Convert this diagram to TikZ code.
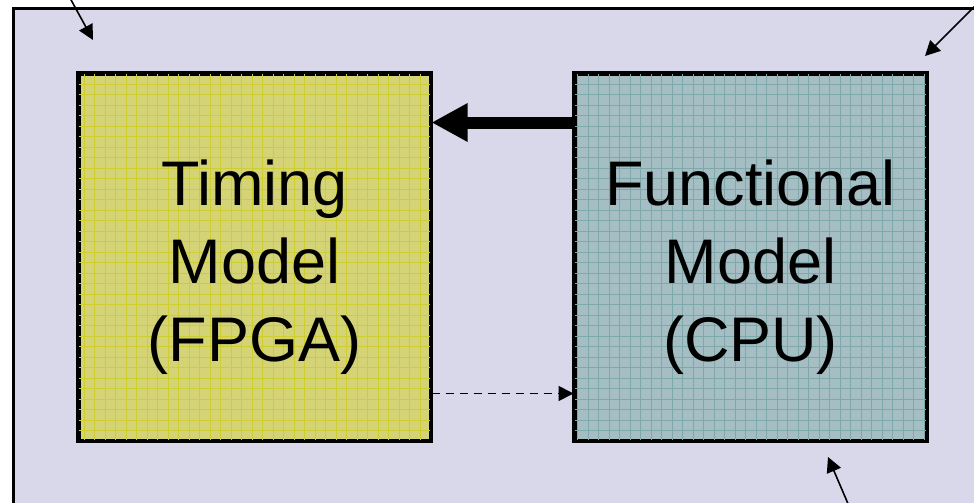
\documentclass[tikz,border=0pt]{standalone}
\usepackage{fontspec}
\setmainfont{Liberation Sans}
\usetikzlibrary{arrows.meta}
\definecolor{backdrop}{RGB}{216,216,234}
\definecolor{timingfill}{RGB}{212,212,118}
\definecolor{timinggrid}{RGB}{206,206,50}
\definecolor{funcfill}{RGB}{164,190,196}
\definecolor{funcgrid}{RGB}{126,168,170}
\newcommand{\gridfill}[2] % node name, grid colour
{
	% clip to the box and lay the grid over its fill
	\begin{scope}
		\clip (#1.south west) rectangle (#1.north east);
		\draw[#2, line width=0.9] (#1.south west) grid[step=10.5pt] (#1.north east);
	\end{scope}
	% redraw the border on top
	\draw[line width=3] (#1.south west) rectangle (#1.north east);
}
\tikzset{
	modelbox/.style={draw, line width=3, minimum width=351, minimum height=366, inner sep=0},
	modeltext/.style={align=center, font=\fontsize{63}{78}\selectfont},
	pointer/.style={line width=1.6, -{Triangle[length=15, width=15]}}
}
\begin{document}
\begin{tikzpicture}[x=1pt, y=-1pt]
	% page: 974 x 503, y grows downwards
	\clip (0, 0) rectangle (974, 503);
	\fill[white] (0, 0) rectangle (974, 503);
	\draw[line width=3, fill=backdrop] (13, 9) rectangle (995, 530);

	% the two models
	\node[modelbox, fill=timingfill, anchor=north west] (timing) at (77.5, 72.5) {};
	\node[modelbox, fill=funcfill, anchor=north west] (functional) at (573.5, 72.5) {};
	\gridfill{timing}{timinggrid};
	\gridfill{functional}{funcgrid};

	\node[modeltext] (timinglabel) at ([yshift=-10]timing.center) {Timing\\Model\\(FPGA)};
	\node[modeltext] (funclabel) at ([yshift=-10]functional.center) {Functional\\Model\\(CPU)};

	% connectors between the models
	\draw[line width=12, -{Triangle[length=36, width=36]}] ([yshift=-50]functional.north west) -- ([yshift=-50]timing.north east);
	\draw[line width=1.8, dash pattern=on 8 off 6, -{Triangle[length=15, width=15]}] ([yshift=48]timing.south east) -- ([yshift=48]functional.south west);

	% pointers coming in from outside
	\coordinate (tlfrom) at (70, -2);
	\coordinate (tlto) at (93, 40);
	\coordinate (trfrom) at (975, 6);
	\coordinate (trto) at (925, 56);
	\coordinate (bfrom) at (849, 506);
	\coordinate (bto) at (828, 457);
	\draw[pointer] (tlfrom) -- (tlto);
	\draw[pointer] (trfrom) -- (trto);
	\draw[pointer] (bfrom) -- (bto);
\end{tikzpicture}
\end{document}
